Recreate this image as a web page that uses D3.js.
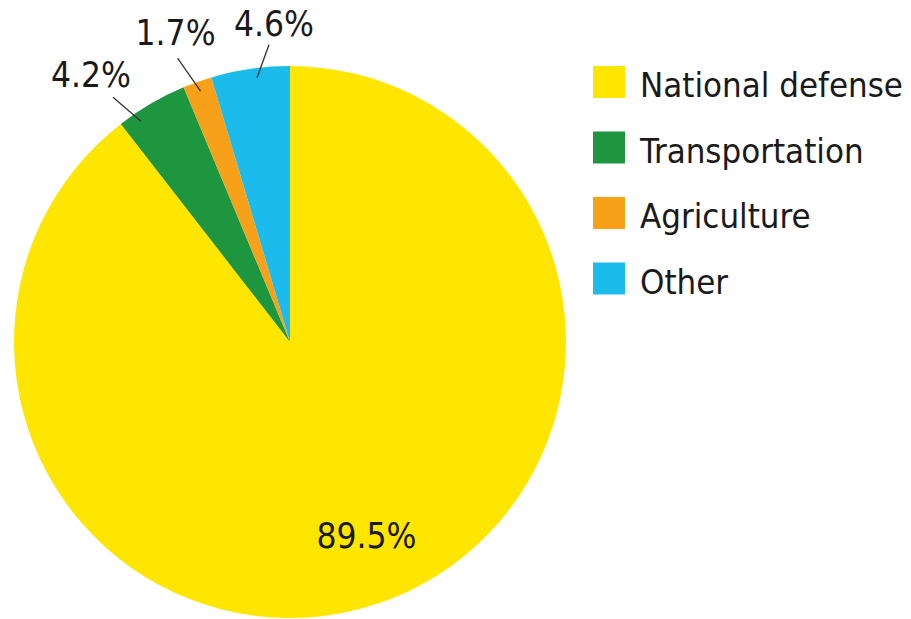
<!DOCTYPE html>
<html>
<head>
<meta charset="utf-8">
<script src="https://cdn.jsdelivr.net/npm/d3@7"></script>
<style>
  html, body { margin: 0; padding: 0; background: #fff; }
  svg text { font-family: "DejaVu Sans Condensed", "DejaVu Sans", sans-serif; font-stretch: condensed; fill: #1a1a1a; }
</style>
</head>
<body>
<svg id="chart" width="911" height="619"></svg>
<script>
// data
let categories = ["National defense", "Transportation", "Agriculture", "Other"];
let shares = [89.5, 4.2, 1.7, 4.6];
let labels = ["89.5%", "4.2%", "1.7%", "4.6%"];
let colors = ["#ffe600", "#1e9640", "#f7a11a", "#1bbcec"];

let svg = d3.select("#chart"),
    width = +svg.attr("width"),
    height = +svg.attr("height");

let cx = 290, cy = 342, radius = 276;

let pie = d3.pie().sort(null).value(function (d) { return d; });
let arcs = pie(shares);

let arc = d3.arc().innerRadius(0).outerRadius(radius);
let g = svg.append("g").attr("transform", "translate(" + cx + "," + cy + ")");

g.selectAll("path")
    .data(arcs)
    .enter()
    .append("path")
    .attr("d", arc)
    .attr("fill", function (d, i) { return colors[i]; });

// big slice label inside
let insideArc = d3.arc().innerRadius(radius * 0.755).outerRadius(radius * 0.755);
g.append("text")
    .attr("x", insideArc.centroid(arcs[0])[0] + 9)
    .attr("y", insideArc.centroid(arcs[0])[1] + 9)
    .attr("text-anchor", "middle")
    .attr("font-size", 35)
    .text(labels[0]);

// small slices: leader lines + labels outside
// [where along the slice the line starts (0..1), line dx, line dy, label dx, label dy]
let leaderLayout = [null, [0.25, -28, -24, -22, -10], [0.5, -23, -33, -2, -13], [0.57, 12, -33, 5, -9]];
let innerR = radius * 0.965;

function innerPoint(d) {
    let t = leaderLayout[d.index][0];
    let a = d.startAngle + (d.endAngle - d.startAngle) * t;
    return [innerR * Math.sin(a), -innerR * Math.cos(a)];
}
function outerPoint(d) {
    let p = innerPoint(d), l = leaderLayout[d.index];
    return [p[0] + l[1], p[1] + l[2]];
}

let small = arcs.slice(1);
g.selectAll("line.leader")
    .data(small)
    .enter()
    .append("line")
    .attr("class", "leader")
    .attr("x1", function (d) { return innerPoint(d)[0]; })
    .attr("y1", function (d) { return innerPoint(d)[1]; })
    .attr("x2", function (d) { return outerPoint(d)[0]; })
    .attr("y2", function (d) { return outerPoint(d)[1]; })
    .attr("stroke", "#333")
    .attr("stroke-width", 1.3);

g.selectAll("text.outer")
    .data(small)
    .enter()
    .append("text")
    .attr("class", "outer")
    .attr("text-anchor", "middle")
    .attr("font-size", 35)
    .attr("x", function (d) { return outerPoint(d)[0] + leaderLayout[d.index][3]; })
    .attr("y", function (d) { return outerPoint(d)[1] + leaderLayout[d.index][4]; })
    .text(function (d) { return labels[d.index]; });

// legend
let legendX = 593, legendY = 66, swatch = 32, rowStep = 65.5;
let legend = svg.append("g")
    .attr("class", "legend")
    .attr("transform", "translate(" + legendX + "," + legendY + ")");

let rows = legend.selectAll("g")
    .data(categories)
    .enter()
    .append("g")
    .attr("transform", function (d, i) { return "translate(0," + (i * rowStep) + ")"; });

rows.append("rect")
    .attr("width", swatch)
    .attr("height", swatch)
    .attr("fill", function (d, i) { return colors[i]; });

rows.append("text")
    .attr("x", 47)
    .attr("y", 31)
    .attr("font-size", 34.5)
    .text(function (d) { return d; });
</script>
</body>
</html>
